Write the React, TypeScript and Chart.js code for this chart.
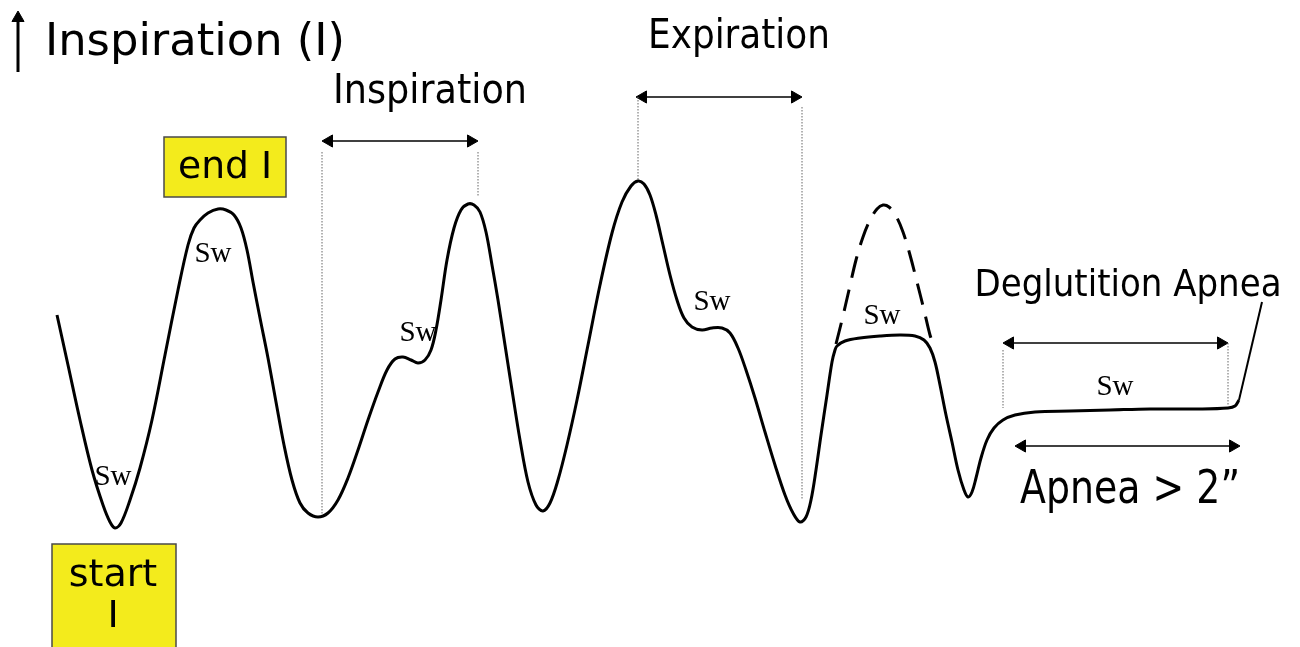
import React, { useEffect, useRef } from "react";
import { Chart, registerables } from "chart.js";

Chart.register(...registerables);

// ---- Breathing trace (time units, depth units; depth axis points downward) ----
const breathTime = [
  57, 68, 80, 92, 103, 110, 115, 121, 130, 140, 152, 165, 178, 188, 194, 200, 208, 218, 226, 234,
  241, 247, 253, 260, 268, 276, 284, 292, 300, 308, 318, 328, 338, 348, 358, 368, 378, 387, 395, 403,
  411, 418, 425, 431, 436, 441, 447, 454, 461, 468, 474, 480, 486, 492, 498, 505, 512, 520, 528, 536,
  543, 550, 558, 567, 577, 588, 600, 612, 622, 631, 638, 644, 650, 656, 663, 670, 677, 684, 692, 702,
  712, 722, 730, 738, 746, 755, 765, 775, 785, 793, 800, 806, 811, 816, 821, 827, 832, 835, 837, 845,
  860, 880, 900, 915, 924, 930, 935, 940, 946, 952, 958, 964, 968, 972, 976, 981, 987, 994, 1003, 1015,
  1035, 1070, 1110, 1150, 1200, 1228, 1235, 1239,
];
const breathLevel = [
  315, 365, 420, 470, 505, 522, 528, 523, 500, 468, 420, 355, 290, 245, 228, 220, 213, 209, 210, 215,
  228, 250, 282, 318, 358, 402, 445, 480, 503, 513, 517, 513, 500, 478, 450, 420, 392, 370, 359, 357,
  360, 363, 360, 350, 330, 300, 260, 228, 210, 204, 205, 212, 232, 265, 300, 345, 390, 440, 482, 505,
  511, 503, 480, 445, 400, 345, 285, 233, 202, 186, 181, 184, 195, 215, 245, 275, 300, 318, 327, 330,
  328, 328, 333, 348, 370, 398, 432, 465, 495, 513, 522, 517, 500, 470, 435, 395, 362, 350, 346, 341,
  338, 336, 335, 336, 340, 348, 362, 385, 415, 442, 470, 490, 497, 492, 478, 458, 440, 428, 420, 415,
  412, 411, 410, 409, 409, 408, 406, 400,
];

// ---- Suppressed (dashed) breath during swallow ----
const suppressedTime = [836, 842, 849, 856, 863, 870, 877, 883, 889, 896, 903, 910, 917, 924, 930, 933];
const suppressedLevel = [344, 320, 290, 260, 237, 220, 209, 205, 207, 216, 232, 255, 282, 310, 335, 343];

// ---- Span arrows: [start, end, level] ----
const arrowStart = [322, 636, 1003, 1015];
const arrowEnd = [478, 802, 1228, 1240];
const arrowLevel = [141, 97, 343, 446];

// ---- Dotted guide lines: [time, top, bottom] ----
const guideTime = [322, 478, 638, 802, 1003, 1228];
const guideTop = [152, 152, 97, 107, 350, 343];
const guideBottom = [515, 196, 180, 500, 408, 405];

// ---- Annotation texts ----
const COMIC = '"Comic Sans MS", "DejaVu Sans", sans-serif';
const SERIF = '"Liberation Serif", "Times New Roman", serif';

const labels = [
  { text: "Inspiration (I)", x: 45, y: 43, size: 45, family: COMIC, maxW: 300, align: "left" },
  { text: "Inspiration", x: 430, y: 93, size: 40, family: COMIC, maxW: 194, align: "center" },
  { text: "Expiration", x: 739, y: 38, size: 40, family: COMIC, maxW: 182, align: "center" },
  { text: "end I", x: 225, y: 168, size: 38, family: COMIC, maxW: 94, align: "center" },
  { text: "start", x: 113, y: 576, size: 38, family: COMIC, maxW: 92, align: "center" },
  { text: "I", x: 113, y: 617, size: 38, family: COMIC, maxW: 40, align: "center" },
  { text: "Deglutition Apnea", x: 1128, y: 286, size: 38, family: COMIC, maxW: 307, align: "center" },
  { text: "Apnea > 2\u201D", x: 1130, y: 491, size: 46, family: COMIC, maxW: 220, align: "center" },
  { text: "Sw", x: 113, y: 477, size: 29, family: SERIF, maxW: 40, align: "center" },
  { text: "Sw", x: 213, y: 254, size: 29, family: SERIF, maxW: 40, align: "center" },
  { text: "Sw", x: 418, y: 333, size: 29, family: SERIF, maxW: 40, align: "center" },
  { text: "Sw", x: 712, y: 302, size: 29, family: SERIF, maxW: 40, align: "center" },
  { text: "Sw", x: 882, y: 316, size: 29, family: SERIF, maxW: 40, align: "center" },
  { text: "Sw", x: 1115, y: 387, size: 29, family: SERIF, maxW: 40, align: "center" },
];

const boxes = [
  { x0: 164, x1: 286, y0: 137, y1: 197 },
  { x0: 52, x1: 176, y0: 544, y1: 652 },
];

const overlayPlugin = {
  id: "overlay",
  beforeDatasetsDraw(chart: any) {
    const { ctx, scales } = chart;
    const xs = scales.x;
    const ys = scales.y;
    ctx.save();
    for (const b of boxes) {
      const px0 = xs.getPixelForValue(b.x0);
      const px1 = xs.getPixelForValue(b.x1);
      const py0 = ys.getPixelForValue(b.y0);
      const py1 = ys.getPixelForValue(b.y1);
      ctx.fillStyle = "#f3eb1c";
      ctx.fillRect(px0, py0, px1 - px0, py1 - py0);
      ctx.strokeStyle = "#4a4a4a";
      ctx.lineWidth = 1.5;
      ctx.strokeRect(px0, py0, px1 - px0, py1 - py0);
    }
    ctx.restore();
  },
  afterDatasetsDraw(chart: any) {
    const { ctx, scales } = chart;
    const xs = scales.x;
    const ys = scales.y;
    ctx.save();
    ctx.fillStyle = "#000";
    ctx.textBaseline = "middle";
    for (const l of labels) {
      ctx.font = `${l.size}px ${l.family}`;
      ctx.textAlign = l.align;
      ctx.fillText(l.text, xs.getPixelForValue(l.x), ys.getPixelForValue(l.y), l.maxW);
    }
    ctx.restore();
  },
};

const HEAD = 7;

export default function App() {
  const ref = useRef<HTMLCanvasElement>(null);

  useEffect(() => {
    if (!ref.current) return;
    const toPts = (xs: number[], ys: number[]) => xs.map((x, i) => ({ x, y: ys[i] }));

    const datasets: any[] = [
      {
        data: toPts(breathTime, breathLevel),
        borderColor: "#000",
        borderWidth: 3,
        pointRadius: 0,
        tension: 0.35,
        borderJoinStyle: "round",
      },
      {
        data: toPts(suppressedTime, suppressedLevel),
        borderColor: "#000",
        borderWidth: 3,
        borderDash: [22, 12],
        pointRadius: 0,
        tension: 0.35,
      },
    ];

    guideTime.forEach((t, i) => {
      datasets.push({
        data: [
          { x: t, y: guideTop[i] },
          { x: t, y: guideBottom[i] },
        ],
        borderColor: "#666",
        borderWidth: 1,
        borderDash: [1.5, 1.5],
        pointRadius: 0,
      });
    });

    arrowStart.forEach((s, i) => {
      datasets.push({
        data: [
          { x: s + HEAD, y: arrowLevel[i] },
          { x: arrowEnd[i] - HEAD, y: arrowLevel[i] },
        ],
        borderColor: "#000",
        borderWidth: 1.6,
        pointStyle: "triangle",
        pointRadius: HEAD,
        pointRotation: [-90, 90],
        pointBackgroundColor: "#000",
        pointBorderColor: "#000",
        pointBorderWidth: 1,
      });
    });

    // Vertical "inspiration" axis arrow
    datasets.push({
      data: [
        { x: 18, y: 72 },
        { x: 18, y: 18 },
      ],
      borderColor: "#000",
      borderWidth: 3,
      pointStyle: "triangle",
      pointRadius: [0, 7],
      pointRotation: 0,
      pointBackgroundColor: "#000",
      pointBorderColor: "#000",
      pointBorderWidth: 1,
    });

    // Callout line to "Deglutition Apnea"
    datasets.push({
      data: [
        { x: 1239, y: 400 },
        { x: 1262, y: 302 },
      ],
      borderColor: "#000",
      borderWidth: 2,
      pointRadius: 0,
    });

    const chart = new Chart(ref.current, {
      type: "line",
      data: { datasets },
      options: {
        animation: false,
        responsive: false,
        maintainAspectRatio: false,
        events: [],
        layout: { padding: 0, autoPadding: false },
        plugins: { legend: { display: false }, tooltip: { enabled: false } },
        scales: {
          x: { type: "linear", min: 0, max: 1300, display: false },
          y: { type: "linear", min: 0, max: 647, reverse: true, display: false },
        },
      },
      plugins: [overlayPlugin],
    } as any);

    return () => chart.destroy();
  }, []);

  return (
    <div style={{ position: "fixed", left: 0, top: 0, width: 1300, height: 647, background: "#fff" }}>
      <canvas ref={ref} width={1300} height={647} style={{ width: 1300, height: 647, display: "block" }} />
    </div>
  );
}
